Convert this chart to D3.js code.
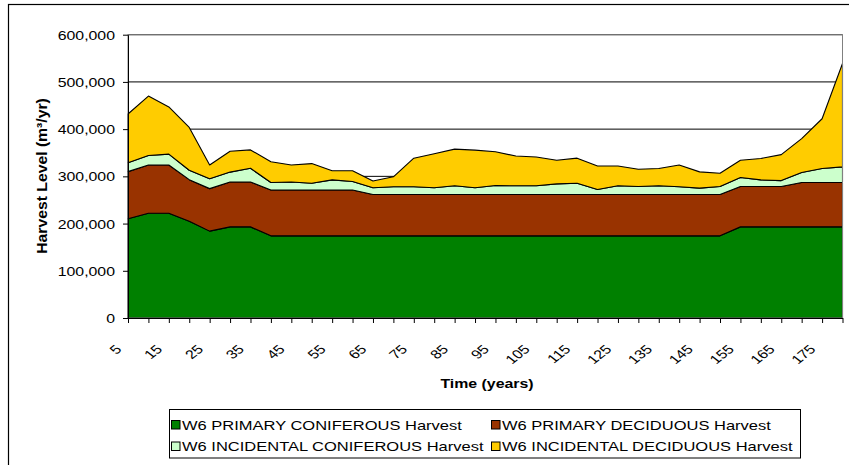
<!DOCTYPE html>
<html><head><meta charset="utf-8">
<script src="https://cdn.jsdelivr.net/npm/d3@7"></script>
<style>
html,body{margin:0;padding:0;background:#fff;}
svg{display:block;font-family:"Liberation Sans",Arial,sans-serif;}
</style></head>
<body><svg id="c" width="849" height="465"></svg>
<script>
const years = [5,10,15,20,25,30,35,40,45,50,55,60,65,70,75,80,85,90,95,100,105,110,115,120,125,130,135,140,145,150,155,160,165,170,175,180];
const xLabels = [5,15,25,35,45,55,65,75,85,95,105,115,125,135,145,155,165,175];
const yTicks = [0,100000,200000,300000,400000,500000,600000];
const seriesNames = ["W6 PRIMARY CONIFEROUS Harvest","W6 PRIMARY DECIDUOUS Harvest","W6 INCIDENTAL CONIFEROUS Harvest","W6 INCIDENTAL DECIDUOUS Harvest"];
const seriesColors = ["#008000","#993300","#CCFFCC","#FFCC00"];
const primaryConiferous = [210000,222000,222000,205000,184000,193000,193000,
  174000,174000,174000,174000,174000,174000,174000,174000,174000,174000,174000,174000,174000,174000,174000,174000,174000,174000,174000,174000,174000,174000,174000,
  193000,193000,193000,193000,193000,193000];
const primaryDeciduous = [100000,102000,102000,88000,90000,95000,95000,
  97000,97000,97000,97000,97000,
  87500,87500,87500,87500,87500,87500,87500,87500,87500,87500,87500,87500,87500,87500,87500,87500,87500,87500,
  85500,85500,85500,94000,94000,94000];
const incidentalConiferous = [19000,20000,23000,20000,21000,21000,29000,16000,17000,14500,21600,18000,14500,16500,16500,14500,18500,14500,19000,18500,18500,22500,24000,10500,18500,17000,18500,16500,13500,17000,19000,14000,12500,21000,29600,33000];
const incidentalDeciduous = [103000,126000,100000,90500,29000,44000,39000,44000,36000,41500,19400,23000,14000,21000,60500,72000,77600,79500,71500,63000,61000,50000,53000,50000,42000,36500,36600,46000,34500,28200,36500,45400,55000,72000,105400,219000];

const SX = 1.27; // horizontal stretch of the original rendering
const svg = d3.select("#c");
const L = 128, R = 842.5, T = 34.7, B = 318;

// chart area border
svg.append("rect").attr("x",8.5).attr("y",4.5).attr("width",900).attr("height",600)
  .attr("fill","#fff").attr("stroke","#000").attr("stroke-width",1.2);

const x = d3.scalePoint().domain(years).range([L,R]);
const y = d3.scaleLinear().domain([0,600000]).range([B,T]);

// gridlines
svg.append("g").selectAll("line").data(yTicks.filter(d=>d>0)).join("line")
  .attr("x1",L).attr("x2",R).attr("y1",d=>y(d)).attr("y2",d=>y(d))
  .attr("stroke","#000").attr("stroke-width",1);

const table = years.map((yr,i)=>({year:yr, s0:primaryConiferous[i], s1:primaryDeciduous[i], s2:incidentalConiferous[i], s3:incidentalDeciduous[i]}));
const stack = d3.stack().keys(["s0","s1","s2","s3"])(table);
const area = d3.area().x(d=>x(d.data.year)).y0(d=>y(d[0])).y1(d=>y(d[1]));
svg.append("g").selectAll("path").data(stack).join("path")
  .attr("d",area).attr("fill",(d,i)=>seriesColors[i])
  .attr("stroke","#000").attr("stroke-width",1.1).attr("stroke-linejoin","round");

// plot border
svg.append("rect").attr("x",L).attr("y",T).attr("width",R-L).attr("height",B-T)
  .attr("fill","none").attr("stroke","#808080").attr("stroke-width",1);

// y axis
const ya = svg.append("g").attr("transform",`translate(${L},0)`)
  .call(d3.axisLeft(y).tickValues(yTicks).tickSize(5).tickSizeOuter(0).tickFormat(d3.format(",")));
ya.select(".domain").attr("stroke","#000");
ya.selectAll(".tick line").attr("stroke","#000");
ya.selectAll(".tick text").each(function(d){
  d3.select(this).attr("x",null).attr("dy",null).attr("text-anchor","end")
    .attr("font-size",12.5).attr("fill","#000")
    .attr("transform",`translate(${115-L},4.5) scale(${SX},1)`);
});

// x axis
const xa = svg.append("g").attr("transform",`translate(0,${B})`)
  .call(d3.axisBottom(x).tickSize(5).tickSizeOuter(0).tickFormat(d=>xLabels.includes(d)?String(d):""));
xa.select(".domain").attr("stroke","#000");
xa.selectAll(".tick line").attr("stroke","#000");
xa.selectAll(".tick text").each(function(d){
  d3.select(this).attr("y",null).attr("dy",null).attr("text-anchor","end")
    .attr("font-size",12.5).attr("fill","#000")
    .attr("transform",`translate(-6,32) scale(${SX},1) rotate(-45)`);
});

// axis titles
svg.append("text").text("Time (years)").attr("text-anchor","middle")
  .attr("font-weight","bold").attr("font-size",12.5)
  .attr("transform",`translate(487,388) scale(${SX},1)`);
svg.append("text").text("Harvest Level (m³/yr)").attr("text-anchor","middle")
  .attr("font-weight","bold").attr("font-size",12.5)
  .attr("transform",`translate(46.5,176) rotate(-90) scale(1.26,1.15)`);

// legend
svg.append("rect").attr("x",169.5).attr("y",409.5).attr("width",631).attr("height",48.5)
  .attr("fill","#fff").attr("stroke","#000").attr("stroke-width",1);
const legPos = [[171,420],[491,420],[171,441.5],[491,441.5]];
const lg = svg.append("g").selectAll("g").data(seriesNames).join("g")
  .attr("transform",(d,i)=>`translate(${legPos[i][0]},${legPos[i][1]})`);
lg.append("rect").attr("x",0.5).attr("y",0.5).attr("width",8.5).attr("height",8.5)
  .attr("fill",(d,i)=>seriesColors[i]).attr("stroke","#000").attr("stroke-width",1);
lg.append("text").text(d=>d).attr("font-size",13).attr("fill","#000")
  .attr("transform",`translate(11,9.5) scale(${SX},1)`);
</script></body></html>
